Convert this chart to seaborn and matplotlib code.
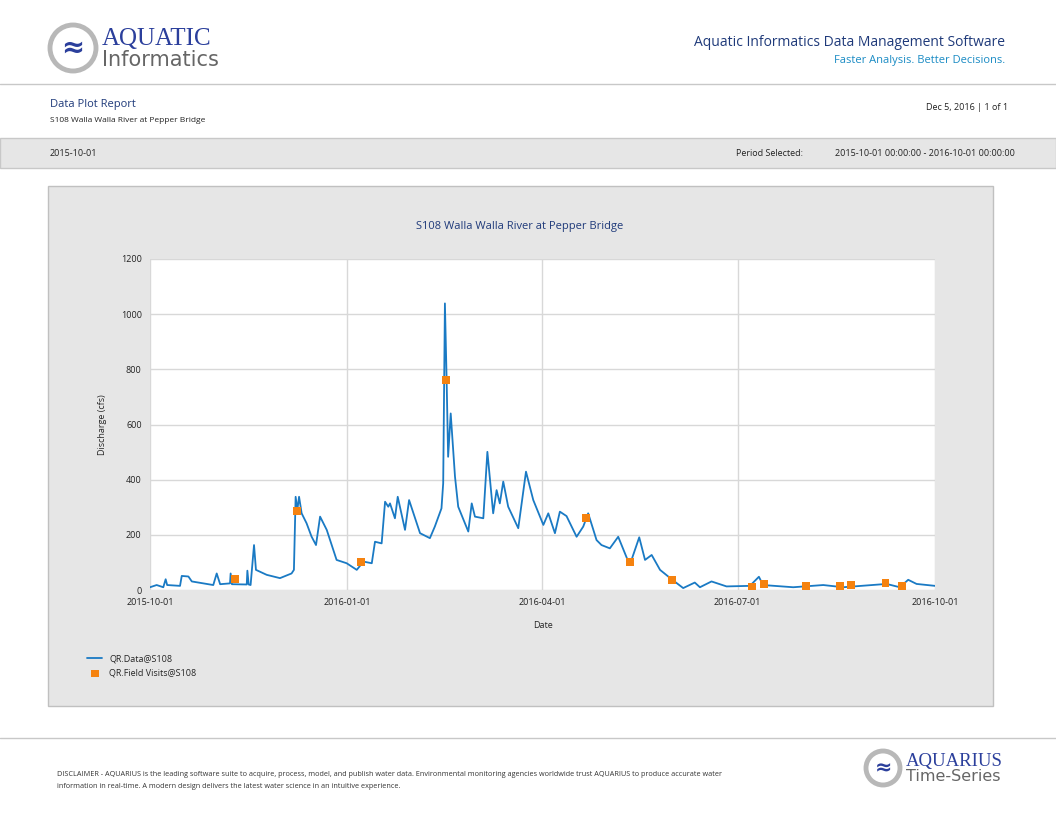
import pandas as pd
import matplotlib
matplotlib.use("Agg")
import matplotlib.pyplot as plt
from matplotlib.patches import Rectangle, Ellipse
import seaborn as sns

# discharge trace (days after 2015-10-01, cfs)
data_days = [0, 3.1, 6.2, 7.3, 8, 14, 14.8, 17.9, 19.5, 29.5, 31.1, 32.7, 37.3, 37.6, 38.2,
             45.1, 45.4, 46, 46.9, 48.5, 49.4, 54.4, 60.6, 66, 67.1, 67.9, 68.7, 69.5, 70.7,
             73, 75.3, 77.4, 79.3, 82.4, 87, 91.7, 96.4, 99.5, 103.4, 104.9, 108, 109.6,
             111.1, 111.9, 114.2, 115.5, 118.9, 120.8, 125.9, 130.5, 132.8, 135.9, 136.7,
             137.5, 138.3, 139, 140.2, 142.2, 143.7, 148.4, 150, 151.5, 155.4, 157.3, 160,
             161.6, 163.1, 164.7, 167, 171.7, 175.3, 178.7, 183.4, 185.7, 188.8, 191.1,
             194.2, 198.9, 202, 204.3, 208.2, 210.5, 214.4, 218.3, 223, 224.5, 228.1, 230.8,
             233.9, 237.8, 243.2, 248.6, 254, 256.4, 261.8, 268.8, 279.7, 283.9, 285.8,
             299.9, 313.9, 323.2, 343.4, 349.6, 353.5, 357.4, 366]
data_cfs = [10, 18, 10, 39, 18, 15, 51, 49, 31, 18, 60, 21, 24, 60, 21,
            20, 70, 20, 18, 163, 73, 55, 43, 60, 73, 338, 290, 338, 278,
            242, 194, 163, 266, 218, 109, 97, 73, 103, 97, 175, 169, 320,
            302, 314, 260, 338, 218, 326, 206, 188, 230, 296, 387,
            1039, 760, 483, 640, 411, 302, 212, 314, 266, 260, 501, 278,
            362, 314, 393, 302, 224, 429, 326, 236, 278, 206, 284,
            268, 193, 230, 278, 181, 163, 151, 193, 103, 109, 191, 109,
            127, 73, 39, 7, 27, 10, 31, 13, 15, 48, 18,
            10, 18, 10, 22, 10, 37, 22, 15]

visit_days = [39.6, 68.5, 98.4, 138, 203.3, 223.8, 243.4, 280.7, 286.2, 305.8, 321.7, 326.8, 343, 350.6]
visit_cfs = [40, 286, 101, 761, 261, 101, 36, 11, 22, 14, 14, 18, 25, 14]

tick_labels = ["2015-10-01", "2016-01-01", "2016-04-01", "2016-07-01", "2016-10-01"]

start = pd.Timestamp("2015-10-01")
df = pd.DataFrame({"date": start + pd.to_timedelta(data_days, unit="D"), "cfs": data_cfs})
fv = pd.DataFrame({"date": start + pd.to_timedelta(visit_days, unit="D"), "cfs": visit_cfs})

sns.set_style("white")
plt.rcParams["font.family"] = ["Open Sans", "DejaVu Sans"]

fig = plt.figure(figsize=(10.56, 8.16), dpi=100)
W, H = 1056, 816

def box(x0, y0, x1, y1, fc, ec="none", lw=1):
    fig.patches.append(Rectangle((x0 / W, 1 - y1 / H), (x1 - x0) / W, (y1 - y0) / H,
                                 transform=fig.transFigure, fc=fc, ec=ec, lw=lw, zorder=0))

def txt(x, y, s, **kw):
    fig.text(x / W, 1 - y / H, s, **kw)

def logo(cx, cy, r, big, small, size_big, size_small):
    fig.patches.append(Ellipse((cx / W, 1 - cy / H), 2 * r / W, 2 * r / H,
                               transform=fig.transFigure, fc="white", ec="#b8b8b8", lw=3.5))
    txt(cx, cy, "≈", fontsize=size_big * 1.1, color="#2b3f9c", ha="center", va="center",
        fontweight="bold", family=["DejaVu Sans"])
    txt(cx + r + 6, cy - r * 0.4, big, fontsize=size_big, color="#2b3f9c", va="center",
        family=["Liberation Serif"])
    txt(cx + r + 6, cy + r * 0.5, small, fontsize=size_small, color="#666666", va="center",
        family=["Liberation Sans Narrow", "DejaVu Sans"])

# header
logo(73, 48, 23, "AQUATIC", "Informatics", 18, 15)
txt(1005, 42, "Aquatic Informatics Data Management Software", fontsize=10, color="#1f3a7a",
    ha="right", va="center")
txt(1005, 60, "Faster Analysis. Better Decisions.", fontsize=8, color="#1a8bc4",
    ha="right", va="center")
fig.add_artist(plt.Line2D([0, 1], [1 - 84 / H] * 2, color="#c8c8c8", lw=1))
txt(50, 105, "Data Plot Report", fontsize=8, color="#1f3a7a", va="center")
txt(50, 120, "S108 Walla Walla River at Pepper Bridge", fontsize=6, color="#222222", va="center")
txt(1008, 107, "Dec 5, 2016 | 1 of 1", fontsize=6.5, color="#222222", ha="right", va="center")
box(0, 138, W, 168, "#e6e6e6", ec="#c8c8c8")
txt(50, 153, "2015-10-01", fontsize=6.5, color="#222222", va="center")
txt(803, 153, "Period Selected:", fontsize=6.5, color="#222222", ha="right", va="center")
txt(1015, 153, "2015-10-01 00:00:00 - 2016-10-01 00:00:00", fontsize=6.5, color="#222222",
    ha="right", va="center")

# chart panel
box(48, 186, 993, 706, "#e6e6e6", ec="#c0c0c0")
txt(520, 226, "S108 Walla Walla River at Pepper Bridge", fontsize=8, color="#1f3a7a",
    ha="center", va="center")

ax = fig.add_axes([150 / W, 1 - 590 / H, 785 / W, 331 / H], zorder=3)
ax.set_facecolor("white")
sns.lineplot(data=df, x="date", y="cfs", ax=ax, color="#1a7ac4", lw=1.3, label="QR.Data@S108")
sns.scatterplot(data=fv, x="date", y="cfs", ax=ax, color="#f5820f", marker="s", s=30,
                edgecolor="none", label="QR.Field Visits@S108", zorder=5)
ax.set_xlim(pd.Timestamp("2015-10-01"), pd.Timestamp("2016-10-01"))
ax.set_ylim(0, 1200)
ax.set_xticks(pd.to_datetime(tick_labels))
ax.set_xticklabels(tick_labels)
ax.set_yticks(range(0, 1201, 200))
ax.tick_params(labelsize=6.5, colors="#222222", length=0, pad=6)
ax.grid(True, color="#d8d8d8", lw=1)
for s in ax.spines.values():
    s.set_visible(False)
ax.set_xlabel("Date", fontsize=6.5, labelpad=10)
ax.set_ylabel("Discharge (cfs)", fontsize=6.5, labelpad=10)
ax.legend(loc="upper left", bbox_to_anchor=(-0.09, -0.17), frameon=False, fontsize=6.5,
          handlelength=1.6, labelspacing=0.6)

# footer
fig.add_artist(plt.Line2D([0, 1], [1 - 738 / H] * 2, color="#c8c8c8", lw=1))
txt(57, 774, "DISCLAIMER - AQUARIUS is the leading software suite to acquire, process, model, and publish water data. "
    "Environmental monitoring agencies worldwide trust AQUARIUS to produce accurate water",
    fontsize=5.2, color="#333333", va="center")
txt(57, 786, "information in real-time. A modern design delivers the latest water science in an intuitive experience.",
    fontsize=5.2, color="#333333", va="center")
logo(883, 768, 17, "AQUARIUS", "Time-Series", 13.5, 11.5)

fig.savefig("out.png", dpi=100)
